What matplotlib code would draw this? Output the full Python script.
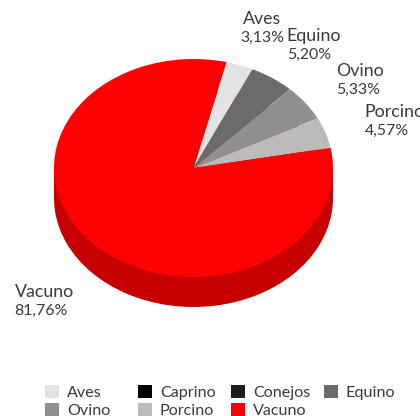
import matplotlib
matplotlib.use("Agg")
import matplotlib.pyplot as plt
from matplotlib.patches import Rectangle

categories = ["Aves", "Caprino", "Conejos", "Equino", "Ovino", "Porcino", "Vacuno"]
values = [3.13, 0.0, 0.0, 5.20, 5.33, 4.57, 81.76]
value_labels = ["3,13%", "", "", "5,20%", "5,33%", "4,57%", "81,76%"]
colors = ["#E3E3E3", "#000000", "#1C1C1C", "#6B6B6B", "#909090", "#BBBBBB", "#FF0000"]
wall_color = "#C60000"

W, H = 420, 416
CX, CY, RX, RY, DEPTH = 193.5, 168, 139.5, 109, 30
FONT = "Lato"
TEXT = "#3A3A3A"
FS_NAME = 12.8
FS_VALUE = 11.4

fig = plt.figure(figsize=(W / 100, H / 100), dpi=100)
ax = fig.add_axes([0, 0, 1, 1])


def setlim():
    ax.set_aspect("auto")
    ax.set_xlim(-CX / RX, (W - CX) / RX)
    ax.set_ylim((CY - H) / RY, CY / RY)
    ax.axis("off")


d = DEPTH / RY
# side wall of the 3-D pie
ax.pie(values, colors=[wall_color] * len(values), startangle=76.3, counterclock=False,
       center=(0, -d), radius=1, wedgeprops={"linewidth": 0})
ax.add_patch(Rectangle((-1, -d), 2, d, facecolor=wall_color, edgecolor="none", zorder=1))
wedges, _ = ax.pie(values, colors=colors, startangle=76.3, counterclock=False,
                   center=(0, 0), radius=1, wedgeprops={"linewidth": 0, "zorder": 3})
setlim()

# slice labels: (left x, top line centre y) in pixels
label_pos = {"Aves": (243, 19), "Equino": (286, 36), "Ovino": (336, 71),
             "Porcino": (364, 112), "Vacuno": (15, 292)}
value_x = {"Aves": 240, "Equino": 287, "Ovino": 336, "Porcino": 365, "Vacuno": 14}
for cat, lab in zip(categories, value_labels):
    if not lab:
        continue
    x, y = label_pos[cat]
    fig.text(x / W, 1 - y / H, cat, fontsize=FS_NAME, family=FONT, color=TEXT, va="center", ha="left")
    fig.text(value_x[cat] / W, 1 - (y + 18.5) / H, lab, fontsize=FS_VALUE, family=FONT, color=TEXT,
             va="center", ha="left")

# legend laid out row by row (matplotlib fills column by column)
order = [0, 4, 1, 5, 2, 6, 3]
leg = fig.legend([wedges[i] for i in order], [categories[i] for i in order], ncol=4,
                 loc="upper left", bbox_to_anchor=(45 / W, 1 - 385 / H),
                 bbox_transform=fig.transFigure, frameon=False,
                 prop={"family": FONT, "size": 11.6}, labelcolor=TEXT,
                 handlelength=0.87, handleheight=0.87, handletextpad=0.5,
                 columnspacing=0.84, labelspacing=0.2, borderpad=0, borderaxespad=0)
leg._legend_handle_box.mode = "equal"

fig.savefig("out.png", dpi=100)
